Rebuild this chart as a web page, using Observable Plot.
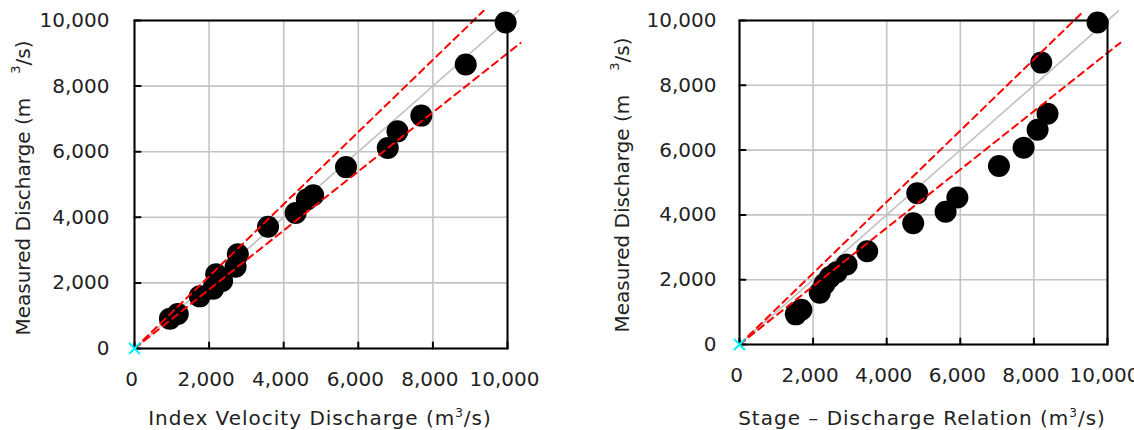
<!DOCTYPE html>
<html><head><meta charset="utf-8">
<script src="https://cdn.jsdelivr.net/npm/d3@7"></script>
<script src="https://cdn.jsdelivr.net/npm/@observablehq/plot@0.6"></script>
<style>
body{margin:0;background:#fff;overflow:hidden}
#wrap{position:relative;width:1134px;height:430px;overflow:hidden;font-family:"DejaVu Sans",sans-serif;color:#222;background:#fff}
.panel{position:absolute;top:0;width:567px;height:400px}
.xlab{position:absolute;font-size:20px;white-space:nowrap;transform:translate(-50%,-50%);letter-spacing:1px}
.ylab{position:absolute;font-size:20px;white-space:nowrap;transform:translate(-50%,-50%) rotate(-90deg)}
.xlab sup{font-size:12px;vertical-align:8px;line-height:0}
.ylab .sp{display:inline-block;width:24px}
.ylab sup{font-size:13px;vertical-align:10px;line-height:0}
</style></head><body><div id="wrap"></div>
<script>
// tick values and labels
const ticks = [0, 2000, 4000, 6000, 8000, 10000];
const tickLabels = ["0", "2,000", "4,000", "6,000", "8,000", "10,000"];

// left panel: Index Velocity Discharge vs Measured Discharge
const indexVelocity = [9950, 8880, 7690, 7050, 6790, 5670, 4790, 4620, 4320, 3580, 2770, 2710, 2190, 2350, 2110, 1750, 1160, 950];
const measuredA     = [9940, 8660, 7100, 6620, 6110, 5530, 4670, 4540, 4130, 3710, 2870, 2490, 2260, 2060, 1820, 1590, 1050, 910];

// right panel: Stage - Discharge Relation vs Measured Discharge
const stageDischarge = [9730, 8200, 8370, 8100, 7720, 7050, 4830, 5920, 5600, 4720, 3470, 2910, 2640, 2460, 2310, 2180, 1680, 1530];
const measuredB      = [9940, 8700, 7120, 6630, 6070, 5510, 4670, 4540, 4100, 3740, 2880, 2470, 2230, 2080, 1870, 1600, 1070, 930];

// reference lines (1:1 and +/-10%)
const lineX     = [0, 10300];
const lineY     = [0, 10300];
const upperX    = [0, 9360];
const upperY    = [0, 10296];
const lowerX    = [0, 10350];
const lowerY    = [0, 9315];
const originPt  = [0];

const tickShape = {draw(ctx, l) { ctx.moveTo(0, 0); ctx.lineTo(0, -l); }};
const fmt = d => tickLabels[ticks.indexOf(d)];

function panel(xs, ys, opts) {
  const pts = xs.map((x, i) => ({x, y: ys[i]}));
  const mk = (X, Y) => X.map((x, i) => ({x, y: Y[i]}));
  return Plot.plot({
    width: 567, height: 400,
    marginLeft: opts.ml, marginRight: opts.mr, marginTop: 20, marginBottom: opts.mb,
    x: {domain: [0, 10000]},
    y: {domain: [0, 10000]},
    style: {fontFamily: "DejaVu Sans, sans-serif", fontSize: "20px", color: "#222", overflow: "visible", background: "transparent", maxWidth: "none"},
    marks: [
      Plot.gridX(ticks, {stroke: "#c4c4c4", strokeOpacity: 1, strokeWidth: 1.6}),
      Plot.gridY(ticks, {stroke: "#c4c4c4", strokeOpacity: 1, strokeWidth: 1.6}),
      Plot.line(mk(lineX, lineY), {x: "x", y: "y", stroke: "#c0c0c0", strokeWidth: 1.6}),
      Plot.dot(pts, {x: "x", y: "y", r: 11, fill: "black"}),
      Plot.line(mk(upperX, upperY), {x: "x", y: "y", stroke: "#ff0000", strokeWidth: 2, strokeDasharray: "7,5"}),
      Plot.line(mk(lowerX, lowerY), {x: "x", y: "y", stroke: "#ff0000", strokeWidth: 2, strokeDasharray: "7,5"}),
      Plot.frame({stroke: "black", strokeWidth: 2}),
      Plot.vector(ticks, {y: d => d, frameAnchor: "left", rotate: 90, length: 6, anchor: "start", shape: tickShape, stroke: "black", strokeWidth: 2}),
      Plot.vector(ticks, {x: d => d, frameAnchor: "bottom", rotate: 0, length: 6, anchor: "start", shape: tickShape, stroke: "black", strokeWidth: 2}),
      Plot.axisX(ticks, {tickSize: 0, tickPadding: 23, tickFormat: fmt, dx: -3, label: null, fill: "#222"}),
      Plot.axisY(ticks, {tickSize: 0, tickPadding: opts.yp, tickFormat: fmt, label: null, fill: "#222"}),
      Plot.dot(originPt, {x: d => d, y: d => d, symbol: "times", r: 5, stroke: "#00f0ff", strokeWidth: 2})
    ]
  });
}

const wrap = document.getElementById("wrap");
function addPanel(left, svg) {
  const d = document.createElement("div");
  d.className = "panel"; d.style.left = left + "px";
  d.appendChild(svg); wrap.appendChild(d);
}
addPanel(0, panel(indexVelocity, measuredA, {ml: 134, mr: 60, mb: 52, yp: 25}));
addPanel(567, panel(stageDischarge, measuredB, {ml: 172, mr: 27, mb: 56, yp: 23}));

function addLabel(cls, x, y, html) {
  const d = document.createElement("div");
  d.className = cls; d.style.left = x + "px"; d.style.top = y + "px"; d.innerHTML = html;
  wrap.appendChild(d);
}
addLabel("xlab", 320, 418, "Index Velocity Discharge (m<sup>3</sup>/s)");
addLabel("xlab", 922, 418, "Stage – Discharge Relation (m<sup>3</sup>/s)");
addLabel("ylab", 23, 188, "Measured Discharge (m<span class='sp'></span><sup>3</sup>/s)");
addLabel("ylab", 622, 185, "Measured Discharge (m<span class='sp'></span><sup>3</sup>/s)");
</script></body></html>
